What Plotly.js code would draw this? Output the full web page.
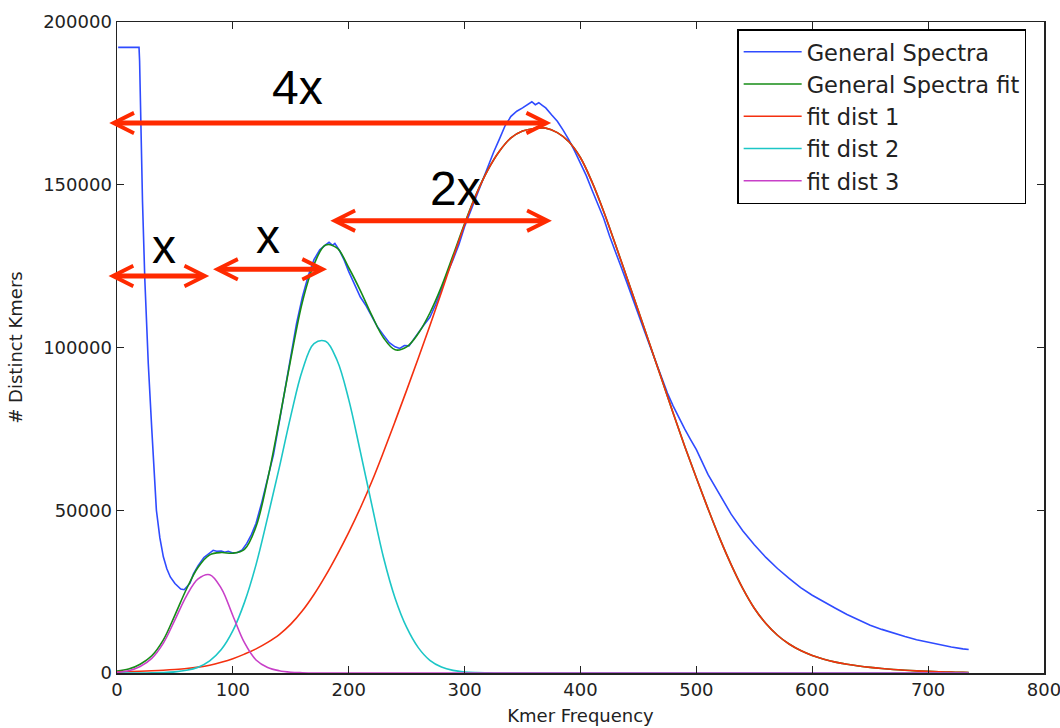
<!DOCTYPE html>
<html>
<head>
<meta charset="utf-8">
<script src="https://cdn.plot.ly/plotly-3.0.1.min.js"></script>
<style>html,body{margin:0;padding:0;background:#fff}#chart{width:1060px;height:728px}</style>
</head>
<body>
<div id="chart"></div>
<script>
// ---- data ----
var spectraX = [1,5,10,15,19,19.5,20.5,22,24,27,30,34,37,40,43,46,50,55,58,60,63,66,70,75,80,83,86,90,93,96,100,104,108,112,116,120,125,130,135,140,145,150,155,160,165,170,175,180,183,186,188,192,196,200,205,210,215,220,225,230,235,240,244,248,252,256,260,265,270,275,280,285,290,295,300,305,310,315,320,325,330,335,340,345,350,355,358,361,364,367,370,375,380,385,390,395,400,405,410,415,420,425,430,435,440,445,450,455,460,465,470,475,480,485,490,495,500,510,520,530,540,550,560,570,580,590,600,610,620,630,640,650,660,670,680,690,700,710,720,730,735];
var spectraY = [192200,192200,192200,192200,192200,188000,170000,145000,121000,95000,75000,50000,41500,35700,32000,29500,27500,25800,25600,26300,27600,30500,33000,35500,37000,37700,37400,37500,37100,37400,36900,37000,37800,39800,42500,46000,52500,59500,67000,77000,87500,98000,107500,115500,122000,127000,130000,131500,132300,131400,132000,129800,126900,123300,119200,115500,112800,109500,106200,103800,101500,100200,99700,100600,100500,102500,104600,107000,109300,113200,117800,122800,127000,131600,137200,141800,146600,151200,155600,160000,164000,168200,171000,172600,173600,174700,175500,174600,175200,174400,173600,171500,169500,166800,163800,160300,156800,152800,148300,144200,139700,134300,129800,124800,120000,114900,110000,105200,100400,95400,90500,86000,82000,78300,74900,71700,68600,61000,55000,48800,43700,39400,35500,32100,29100,26200,23900,21800,19900,18000,16400,14700,13400,12200,11200,10200,9400,8700,8000,7400,7200];

var fitX = [0,10,20,30,40,50,60,70,80,90,100,110,120,130,140,150,160,170,180,190,200,210,220,230,240,250,260,270,280,290,300,310,320,330,340,350,360,370,380,390,400,410,420,430,440,450,460,470,480,490,500,510,520,530,540,550,560,570,580,590,600,610,620,630,640,650,660,670,680,690,700,710,720,730,735];
var fitSum = [600,1200,2700,5300,10200,17800,25800,32500,36300,37000,36800,38000,45000,59500,77500,96500,114000,125500,131500,130500,124500,117500,109800,103000,99300,100200,104300,110600,118700,128300,138100,147100,154530,160300,164400,166500,167300,167400,166000,163200,158300,150800,141800,131800,121500,111200,100800,90300,79800,69600,59900,50500,41500,33300,26000,19900,15200,11600,8900,6900,5400,4250,3350,2680,2150,1720,1370,1080,840,650,490,370,270,190,160];
var dist1 = [350,450,550,680,850,1080,1380,1800,2400,3300,4400,5800,7400,9400,11800,15000,19100,24100,29900,36300,43200,50700,58900,67900,77300,86900,96700,106700,117000,127500,137800,147000,154500,160300,164400,166500,167300,167400,166000,163200,158300,150800,141800,131800,121500,111200,100800,90300,79800,69600,59900,50500,41500,33300,26000,19900,15200,11600,8900,6900,5400,4250,3350,2680,2150,1720,1370,1080,840,650,490,370,270,190,160];
var dist2 = [0,0,0,50,130,340,830,1800,3750,7200,13000,21700,33300,47800,63000,79000,93000,101200,101900,96000,84000,68000,51500,35500,23000,14000,7800,3900,1850,800,300,100,30,0,0,0,0,0,0,0,0,0,0,0,0,0,0,0,0,0,0,0,0,0,0,0,0,0,0,0,0,0,0,0,0,0,0,0,0,0,0,0,0,0,0];
var dist3 = [200,700,2000,4500,9200,16300,23700,28900,30200,26000,17600,9300,4000,1700,700,250,80,0,0,0,0,0,0,0,0,0,0,0,0,0,0,0,0,0,0,0,0,0,0,0,0,0,0,0,0,0,0,0,0,0,0,0,0,0,0,0,0,0,0,0,0,0,0,0,0,0,0,0,0,0,0,0,0,0,0];

var seriesNames = ['General Spectra','General Spectra fit','fit dist 1','fit dist 2','fit dist 3'];
var seriesColors = ['#2f4bff','#168c16','#f4300f','#1cc6c6','#c840c8'];

// arrows: [headX, tailX, y]
var arrowHeadX = [374.7, 375.3, 79.6, 181.3];
var arrowTailX = [-8.0, 182.8, -8.6, 81.6];
var arrowY = [168960, 138950, 121960, 124020];
// text labels
var labelText = ['4x','2x','x','x'];
var labelX = [155.5, 292.0, 40.5, 130.0];
var labelY = [179800, 148900, 131000, 134060];

var xTicks = [0,100,200,300,400,500,600,700,800];
var yTicks = [0,50000,100000,150000,200000];

// ---- build ----
var ys = [spectraY, fitSum, dist1, dist2, dist3];
var xs = [spectraX, fitX, fitX, fitX, fitX];
var traces = ys.map(function(y, i){
  return {x: xs[i], y: y, type:'scatter', mode:'lines', name: seriesNames[i],
    line:{color: seriesColors[i], width: 1.6, shape: i===0 ? 'linear' : 'spline', smoothing: 1}};
});

var annotations = [];
for (var i=0;i<arrowY.length;i++){
  annotations.push({xref:'x', yref:'y', axref:'x', ayref:'y', x: arrowHeadX[i], y: arrowY[i],
    ax: arrowTailX[i], ay: arrowY[i], text:'', showarrow:true, arrowside:'end+start',
    arrowhead:5, startarrowhead:5, arrowsize:0.8, startarrowsize:0.8, arrowwidth:5,
    arrowcolor:'#ff2a00', standoff:0, startstandoff:0});
}
for (var j=0;j<labelText.length;j++){
  annotations.push({xref:'x', yref:'y', x: labelX[j], y: labelY[j], text: labelText[j], showarrow:false,
    xanchor:'center', yanchor:'middle', font:{family:'Liberation Sans, Arial, sans-serif', size:48, color:'#000'}});
}

var axisCommon = {showgrid:false, zeroline:false, showline:true, linecolor:'#222', linewidth:1.5,
  mirror:'ticks', ticks:'inside', ticklen:7, tickwidth:1, tickcolor:'#222', ticklabeloverflow:'allow',
  tickfont:{family:'DejaVu Sans, sans-serif', size:18, color:'#222'}};

var layout = {
  width:1060, height:728, paper_bgcolor:'#fff', plot_bgcolor:'#fff',
  margin:{l:117, r:16, t:22, b:55},
  showlegend:true,
  legend:{x:0.669, y:0.989, xanchor:'left', yanchor:'top', bgcolor:'#fff', bordercolor:'#000', borderwidth:1.5,
    itemwidth:58, entrywidth:288, entrywidthmode:'pixels',
    font:{family:'DejaVu Sans, sans-serif', size:22.5, color:'#222'}},
  xaxis: Object.assign({}, axisCommon, {range:[0,800], tickvals:xTicks, ticktext:xTicks.map(String),
    title:{text:'Kmer Frequency', font:{family:'DejaVu Sans, sans-serif', size:18, color:'#222'}, standoff:10}}),
  yaxis: Object.assign({}, axisCommon, {range:[0,200000], tickvals:yTicks, ticktext:yTicks.map(String),
    title:{text:'# Distinct Kmers', font:{family:'DejaVu Sans, sans-serif', size:18, color:'#222'}, standoff:16}}),
  annotations: annotations
};

Plotly.newPlot('chart', traces, layout, {displayModeBar:false, staticPlot:true});
</script>
</body>
</html>
